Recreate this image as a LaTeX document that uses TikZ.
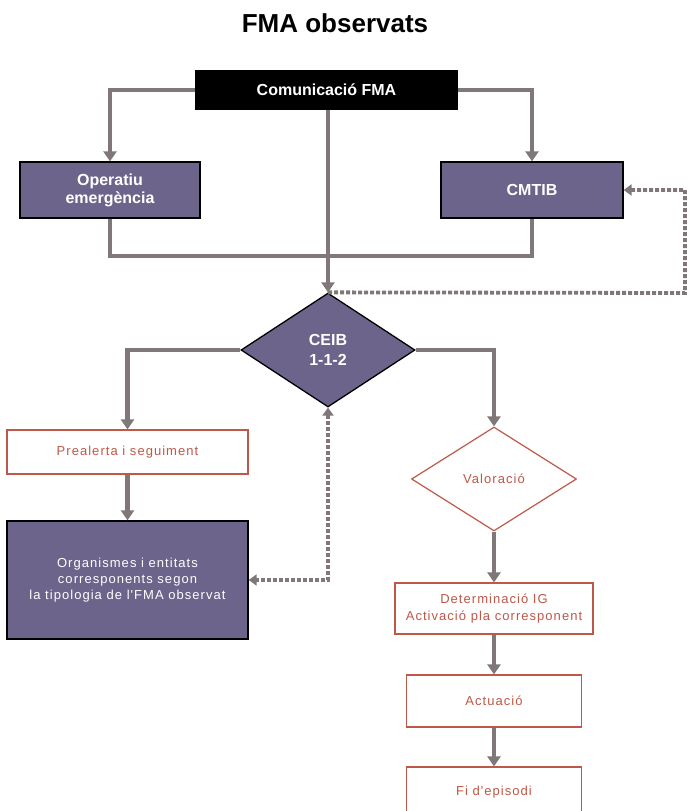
\documentclass[tikz,border=0pt]{standalone}
\usepackage{fontspec}
\setmainfont{Liberation Sans}
\newfontfamily\thuafont[LetterSpace=8]{Liberation Sans}
\usetikzlibrary{arrows.meta, shapes.geometric, positioning, calc}
\definecolor{tim}{RGB}{108,100,139}
\definecolor{xam}{RGB}{128,120,120}
\definecolor{donau}{RGB}{190,88,72}

\begin{document}
\begin{tikzpicture}[x=1pt, y=-1pt,
        hoptim/.style={draw=black, line width=1.3pt, fill=tim, text=white, inner sep=0pt, align=center, font=\bfseries\fontsize{16}{18}\selectfont},
        hopdo/.style={draw=donau, line width=1.2pt, fill=white, text=donau, inner sep=0pt, align=center, font=\thuafont\fontsize{13}{17}\selectfont},
        noi/.style={draw=xam, line width=4.5pt, -{Triangle[width=13pt,length=10pt]}},
        tron/.style={draw=xam, line width=4.5pt},
        netdut/.style={draw=xam, line width=3.8pt, dash pattern=on 4pt off 2pt, -{Triangle[width=11pt,length=8pt]}}]

        \path[use as bounding box, clip] (0,0) rectangle (688,811);

        % Vẽ tiêu đề
        \node[font=\bfseries\fontsize{26}{30}\selectfont, anchor=base] (tieude) at (335,32) {FMA observats};

        % Vẽ các hộp phía trên
        \node[fill=black, text=white, inner sep=0pt, minimum width=263pt, minimum height=40pt, font=\bfseries\fontsize{16}{18}\selectfont] (comm) at (326.5,90) {Comunicació FMA};
        \node[hoptim, minimum width=180pt, minimum height=56pt] (oper) at (110,190) {Operatiu\\emergència};
        \node[hoptim, minimum width=182pt, minimum height=56pt] (cmtib) at (532,190) {CMTIB};
        \node[hoptim, shape=diamond, minimum width=174pt, minimum height=114pt, font=\bfseries\fontsize{16}{20}\selectfont] (ceib) at (328,350) {CEIB\\1-1-2};

        % Nhánh trái
        \node[hopdo, minimum width=241pt, minimum height=44pt] (preal) at (127.5,452) {Prealerta i seguiment};
        \node[hoptim, minimum width=241pt, minimum height=118pt, font=\thuafont\fontsize{13}{16}\selectfont] (organ) at (127.5,580) {Organismes i entitats\\corresponents segon\\la tipologia de l'FMA observat};

        % Nhánh phải
        \node[hopdo, shape=diamond, minimum width=165pt, minimum height=104pt] (valor) at (494,479) {Valoració};
        \node[hopdo, minimum width=198pt, minimum height=51pt] (determ) at (494,608.5) {Determinació IG\\Activació pla corresponent};
        \node[hopdo, minimum width=175pt, minimum height=52pt] (actua) at (494,701) {Actuació};
        \node[hopdo, minimum width=175pt, minimum height=51pt] (fi) at (494,792.5) {Fi d'episodi};

        % Điểm phụ
        \coordinate (gop) at (328,256); % đường nối dưới hai hộp
        \coordinate (vong) at (685,293); % góc đường nét đứt

        % Vẽ mũi tên
        \draw[noi] (comm.west) -| (oper.north);
        \draw[noi] (comm.east) -| (cmtib.north);
        \draw[tron] (oper.south) |- (gop) -| (cmtib.south);
        \draw[noi] (ceib.north |- comm.south) -- (ceib.north);
        \draw[noi] (ceib.west) -| (preal.north);
        \draw[noi] (ceib.east) -| (valor.north);
        \draw[noi] (preal.south) -- (organ.north);
        \draw[noi] (valor.south) -- (determ.north);
        \draw[noi] (determ.south) -- (actua.north);
        \draw[noi] (actua.south) -- (fi.north);

        % Đường nét đứt
        \draw[netdut] (ceib.north) -- (vong) |- (cmtib.east);
        \draw[netdut, {Triangle[width=11pt,length=8pt]}-{Triangle[width=11pt,length=8pt]}] (ceib.south) |- (organ.east);

\end{tikzpicture}
\end{document}
